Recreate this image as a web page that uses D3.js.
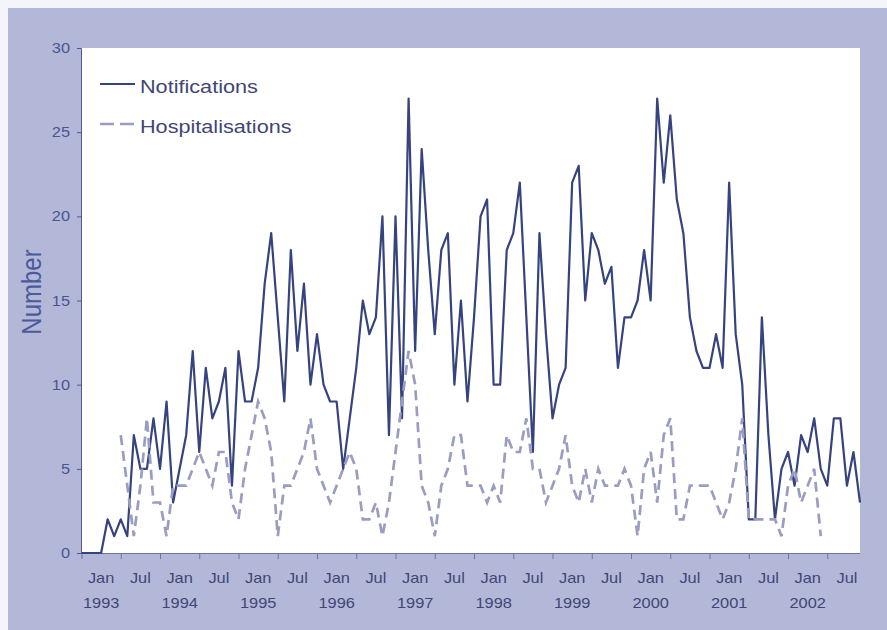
<!DOCTYPE html>
<html lang="en">
<head>
    <meta charset="utf-8">
    <title>Notifications and hospitalisations, 1993-2002</title>
    <style>
        body { margin: 0; background: #fff; }
        text { font-family: "Liberation Sans", Arial, sans-serif; }
    </style>
</head>
<body>
    <script src="https://d3js.org/d3.v7.min.js"></script>
    <script>
    // monthly counts, Jan 1993 .. Dec 2002
    var notifications = [
        0, 0, 0, 0, 2, 1, 2, 1, 7, 5, 5, 8,        // 1993
        5, 9, 3, 5, 7, 12, 6, 11, 8, 9, 11, 4,     // 1994
        12, 9, 9, 11, 16, 19, 14, 9, 18, 12, 16, 10, // 1995
        13, 10, 9, 9, 5, 8, 11, 15, 13, 14, 20, 7, // 1996
        20, 8, 27, 12, 24, 18, 13, 18, 19, 10, 15, 9, // 1997
        14, 20, 21, 10, 10, 18, 19, 22, 14, 6, 19, 13, // 1998
        8, 10, 11, 22, 23, 15, 19, 18, 16, 17, 11, 14, // 1999
        14, 15, 18, 15, 27, 22, 26, 21, 19, 14, 12, 11, // 2000
        11, 13, 11, 22, 13, 10, 2, 2, 14, 7, 2, 5,  // 2001
        6, 4, 7, 6, 8, 5, 4, 8, 8, 4, 6, 3          // 2002
    ];
    // hospital data only covers Jul 1993 .. Jun 2002
    var hospitalisations = [
        null, null, null, null, null, null, 7, 4, 1, 4, 8, 3,
        3, 1, 4, 4, 4, 5, 6, 5, 4, 6, 6, 3,
        2, 5, 7, 9, 8, 6, 1, 4, 4, 5, 6, 8,
        5, 4, 3, 4, 5, 6, 5, 2, 2, 3, 1, 3,
        6, 9, 12, 10, 4, 3, 1, 4, 5, 7, 7, 4,
        4, 4, 3, 4, 3, 7, 6, 6, 8, 5, 5, 3,
        4, 5, 7, 4, 3, 5, 3, 5, 4, 4, 4, 5,
        4, 1, 5, 6, 3, 7, 8, 2, 2, 4, 4, 4,
        4, 3, 2, 3, 5, 8, 2, 2, 2, 2, 2, 1,
        4, 5, 3, 4, 5, 1, null, null, null, null, null, null
    ];
    var years = [1993, 1994, 1995, 1996, 1997, 1998, 1999, 2000, 2001, 2002];
    var halfLabels = ["Jan", "Jul"];
    var yTicks = [0, 5, 10, 15, 20, 25, 30];

    var w = 887, h = 630;
    var plotL = 81.5, plotR = 860, plotT = 48, plotB = 553;
    var stretch = 1.17; // the original type is a bit wide

    var svg = d3.select("body").append("svg")
        .attr("width", w).attr("height", h);

    svg.append("rect").attr("width", w).attr("height", h).attr("fill", "#f4f5fa");
    svg.append("rect").attr("x", 8).attr("y", 8).attr("width", w - 8).attr("height", h - 8)
        .attr("fill", "#b3b8d9");
    svg.append("rect").attr("x", plotL).attr("y", plotT)
        .attr("width", plotR - plotL).attr("height", plotB - plotT).attr("fill", "#fff");

    var idx = d3.range(notifications.length);
    var x = d3.scaleLinear().domain([0, idx.length - 1]).range([plotL, plotR]);
    var y = d3.scaleLinear().domain([0, 30]).range([plotB, plotT]);

    function label(txt, px, py, size, anchor, fill) {
        svg.append("text")
            .attr("transform", "translate(" + px + "," + py + ") scale(" + stretch + ",1)")
            .attr("text-anchor", anchor)
            .style("font-size", size + "px")
            .style("fill", fill)
            .text(txt);
    }

    // y axis
    var yAxis = svg.append("g").attr("transform", "translate(" + (plotL - 0.5) + ",0)")
        .call(d3.axisLeft(y).tickValues(yTicks).tickSize(4).tickFormat(""));
    yAxis.select(".domain").attr("stroke", "#4f5a8f");
    yAxis.selectAll(".tick line").attr("stroke", "#4f5a8f");
    yTicks.forEach(function(v) {
        label(v, 70, y(v) + 5, 14, "end", "#4a5590");
    });

    // x axis: ticks every six months, labels centred between ticks
    var tickIdx = d3.range(0, idx.length, 6);
    var xAxis = svg.append("g").attr("transform", "translate(0," + plotB + ")")
        .call(d3.axisBottom(x).tickValues(tickIdx).tickSize(6).tickFormat(""));
    xAxis.select(".domain").attr("stroke", "#6d74a3").attr("d", "M" + plotL + ",0.5H" + plotR);
    xAxis.selectAll(".tick line").attr("stroke", "#6d74a3");
    tickIdx.forEach(function(t, k) {
        label(halfLabels[k % 2], x(t + 3), 583, 14, "middle", "#3f4675");
        if (k % 2 === 0) label(years[k / 2], x(t + 3), 608, 14, "middle", "#3f4675");
    });

    // axis title
    svg.append("text")
        .attr("transform", "translate(41,292) rotate(-90) scale(1,1.17)")
        .attr("text-anchor", "middle")
        .style("font-size", "24px")
        .style("fill", "#4d5a9a")
        .text("Number");

    // series
    var line = d3.line()
        .defined(function(d) { return d != null; })
        .x(function(d, i) { return x(i); })
        .y(function(d) { return y(d); });

    svg.append("path").datum(notifications)
        .attr("d", line)
        .attr("fill", "none")
        .attr("stroke", "#36437f")
        .attr("stroke-width", 2.2)
        .attr("stroke-linejoin", "round");

    svg.append("path").datum(hospitalisations)
        .attr("d", line)
        .attr("fill", "none")
        .attr("stroke", "#9a9dc2")
        .attr("stroke-width", 2.7)
        .attr("stroke-dasharray", "10,6");

    // legend
    svg.append("line").attr("x1", 100).attr("x2", 135).attr("y1", 84).attr("y2", 84)
        .attr("stroke", "#36437f").attr("stroke-width", 2.2);
    label("Notifications", 140, 93, 18.5, "start", "#3f4675");
    svg.append("line").attr("x1", 100).attr("x2", 135).attr("y1", 124).attr("y2", 124)
        .attr("stroke", "#9a9dc2").attr("stroke-width", 2.7).attr("stroke-dasharray", "14,6");
    label("Hospitalisations", 140, 133, 18.5, "start", "#3f4675");
    </script>
</body>
</html>
